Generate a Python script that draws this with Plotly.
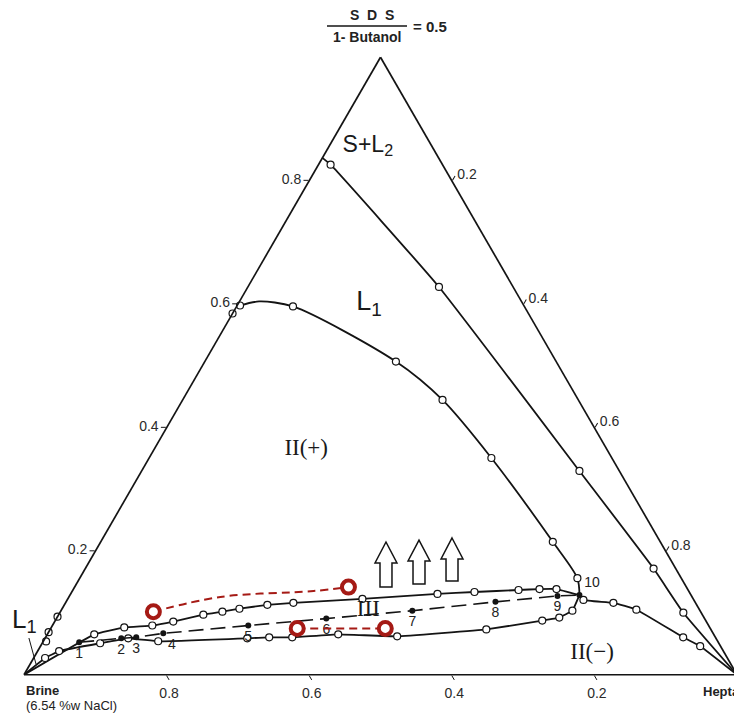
import plotly.graph_objects as go

# ---------------- data (mass fractions) ----------------
# S = surfactant+alcohol (apex), H = heptane (right corner), brine = 1 - S - H
# S+L2 / L1 boundary
sl2_S = [0.837, 0.826, 0.628, 0.330, 0.172, 0.1005, 0.0]
sl2_H = [0.000, 0.017, 0.268, 0.614, 0.797, 0.8745, 1.0]
# L1 / II(+) boundary
l1_S = [0.598, 0.6045, 0.5965, 0.5072, 0.445, 0.351, 0.2153, 0.1563, 0.129]
l1_H = [0.004, 0.0275, 0.079, 0.268, 0.3645, 0.480, 0.634, 0.698, 0.7145]
l1_marked = [0, 2, 3, 4, 5, 6, 7]
# upper boundary of three-phase lobe (brine corner -> point 10)
up_S = [0.0, 0.0654, 0.0766, 0.0797, 0.0861, 0.0973, 0.1021, 0.1069, 0.1132, 0.1164,
        0.1228, 0.1308, 0.134, 0.1372, 0.1388, 0.1388, 0.129]
up_H = [0.0, 0.0658, 0.1023, 0.1401, 0.1663, 0.2029, 0.2272, 0.2487, 0.2847, 0.3196,
        0.4132, 0.5145, 0.5648, 0.625, 0.6536, 0.6774, 0.7145]
# lower boundary of three-phase lobe
lo_S = [0.0, 0.0271, 0.0383, 0.051, 0.059, 0.0542, 0.059, 0.0606, 0.0606, 0.0654,
        0.0622, 0.0734, 0.0877, 0.0925, 0.1037, 0.129]
lo_H = [0.0, 0.016, 0.0301, 0.0813, 0.1167, 0.1611, 0.2836, 0.3136, 0.3459, 0.408,
        0.4923, 0.6117, 0.683, 0.7045, 0.7173, 0.7145]
# II(-) boundary (point 10 -> heptane corner)
neg_S = [0.129, 0.1212, 0.1164, 0.1053, 0.0606, 0.0463, 0.0]
neg_H = [0.7145, 0.724, 0.7684, 0.8062, 0.8942, 0.9252, 1.0]
# numbered samples along the dashed line
num_S = [0.0526, 0.059, 0.0606, 0.067, 0.0797, 0.0909, 0.1037, 0.118, 0.1276, 0.129]
num_H = [0.0511, 0.1069, 0.1271, 0.1618, 0.2747, 0.3785, 0.4928, 0.6022, 0.6844, 0.7145]
num_labels = ["1", "2", "3", "4", "5", "6", "7", "8", "9", "10"]
# open points on the brine/surfactant edge
edge_S = [0.585, 0.094, 0.069, 0.054]
edge_H = [0.0, 0.0, 0.0, 0.004]
# red annotation
red_S = [0.1021, 0.1419, 0.075, 0.075]
red_H = [0.1304, 0.3841, 0.3457, 0.4692]
red_curve_S = [0.1021, 0.126, 0.1356, 0.1419]
red_curve_H = [0.1304, 0.2125, 0.3382, 0.3841]
# region labels
reg_text = ["S+L<sub>2</sub>", "L<sub>1</sub>"]
reg_S = [0.8565, 0.601]
reg_H = [0.054, 0.1834]
reg_size = [23, 27]
roman_text = ["II(+)", "III", "II(−)"]
roman_S = [0.365, 0.1037, 0.0351]
roman_H = [0.2133, 0.4311, 0.7792]
tick_vals = [0.2, 0.4, 0.6, 0.8]


def brine(S, H):
    return [max(0.0, 1 - s - h) for s, h in zip(S, H)]


def pick(lst, idx):
    return [lst[i] for i in idx]


LINE = "#141414"
FONT = "Liberation Sans, Arial, sans-serif"
open_marker = dict(symbol="circle", size=7, color="white", line=dict(color=LINE, width=1.2))

fig = go.Figure()


def curve(S, H, marked, shape="spline", smooth=0.6):
    fig.add_trace(go.Scatterternary(a=S, b=brine(S, H), c=H, mode="lines",
                                    line=dict(color=LINE, width=1.8, shape=shape, smoothing=smooth),
                                    hoverinfo="skip", cliponaxis=False))
    mS, mH = pick(S, marked), pick(H, marked)
    fig.add_trace(go.Scatterternary(a=mS, b=brine(mS, mH), c=mH, mode="markers",
                                    marker=open_marker, hoverinfo="skip", cliponaxis=False))


curve(sl2_S, sl2_H, list(range(1, len(sl2_S) - 1)), "spline", 0.4)
curve(l1_S, l1_H, l1_marked, "spline", 0.8)
curve(up_S, up_H, list(range(1, len(up_S) - 1)), "spline", 0.25)
curve(lo_S, lo_H, list(range(1, len(lo_S) - 1)), "spline", 0.2)
curve(neg_S, neg_H, list(range(1, len(neg_S) - 1)), "spline", 0.4)

fig.add_trace(go.Scatterternary(a=edge_S, b=brine(edge_S, edge_H), c=edge_H, mode="markers",
                                marker=open_marker, hoverinfo="skip", cliponaxis=False))

# dashed line through numbered points
fig.add_trace(go.Scatterternary(a=num_S, b=brine(num_S, num_H), c=num_H, mode="lines",
                                line=dict(color=LINE, width=1.6, dash="15px,7px"),
                                hoverinfo="skip", cliponaxis=False))
tpos = ["bottom center"] * 3 + ["bottom right"] + ["bottom center"] * 5 + ["top right"]
fig.add_trace(go.Scatterternary(a=num_S, b=brine(num_S, num_H), c=num_H, mode="markers+text",
                                marker=dict(size=6, color=LINE), text=num_labels, textposition=tpos,
                                textfont=dict(size=14, color="#222", family=FONT),
                                hoverinfo="skip", cliponaxis=False))

# red annotation
RED = "#a51a15"
fig.add_trace(go.Scatterternary(a=red_curve_S, b=brine(red_curve_S, red_curve_H), c=red_curve_H,
                                mode="lines", line=dict(color=RED, width=2, dash="8px,5px", shape="spline"),
                                hoverinfo="skip", cliponaxis=False))
fig.add_trace(go.Scatterternary(a=red_S[2:], b=brine(red_S[2:], red_H[2:]), c=red_H[2:],
                                mode="lines", line=dict(color=RED, width=2, dash="8px,5px"),
                                hoverinfo="skip", cliponaxis=False))
fig.add_trace(go.Scatterternary(a=red_S, b=brine(red_S, red_H), c=red_H, mode="markers",
                                marker=dict(symbol="circle", size=13, color="white",
                                            line=dict(color=RED, width=4)),
                                hoverinfo="skip", cliponaxis=False))

# region labels
fig.add_trace(go.Scatterternary(a=reg_S, b=brine(reg_S, reg_H), c=reg_H, mode="text",
                                text=reg_text, textposition="middle center",
                                textfont=dict(size=reg_size, color="#1a1a1a", family=FONT),
                                hoverinfo="skip", cliponaxis=False))
fig.add_trace(go.Scatterternary(a=roman_S, b=brine(roman_S, roman_H), c=roman_H, mode="text",
                                text=roman_text, textposition="middle center",
                                textfont=dict(size=23, color="#1a1a1a",
                                              family="Liberation Serif, DejaVu Serif, serif"),
                                hoverinfo="skip", cliponaxis=False))

# ---------------- layout ----------------
OFF = 8                      # page offset of the figure (body margin)
W, H_ = 742, 717
ML, MT = 16, 49
PW, PH = 713, 618
MR, MB = W - ML - PW, H_ - MT - PH


def px(x):
    return (x - OFF - ML) / PW


def py(y):
    return (MT + PH + OFF - y) / PH


axis = dict(showgrid=False, showline=True, linecolor=LINE, linewidth=1.7, ticks="outside",
            ticklen=5, tickcolor=LINE, tickvals=tick_vals,
            tickfont=dict(size=14, color="#2a2a2a", family=FONT), title=dict(text=""))

shapes = []
# block arrows
for cx, top, base, bot in [(386, 542, 563, 587), (419, 540, 561, 584), (452, 538, 559, 581)]:
    hw, sw = 11, 6
    pts = [(cx, top), (cx + hw, base), (cx + sw, base), (cx + sw, bot), (cx - sw, bot),
           (cx - sw, base), (cx - hw, base)]
    path = "M " + " L ".join(f"{px(x):.4f},{py(y):.4f}" for x, y in pts) + " Z"
    shapes.append(dict(type="path", xref="paper", yref="paper", path=path,
                       line=dict(color=LINE, width=1.5), fillcolor="white"))
# fraction bar
shapes.append(dict(type="line", xref="paper", yref="paper", x0=px(327), x1=px(407),
                   y0=py(26), y1=py(26), line=dict(color=LINE, width=1.5)))


def note(text, x, y, size, xanchor="center", **kw):
    d = dict(text=text, x=px(x), y=py(y), xanchor=xanchor, yanchor="middle",
             showarrow=False, font=dict(size=size, family=FONT, color="#222"))
    d.update(kw)
    return d


annotations = [
    note("<b>S  D  S</b>", 372, 15, 14),
    note("<b>1- Butanol</b>", 367, 37, 14),
    note("<b>= 0.5</b>", 411, 26, 15, "left"),
    note("<b>Brine</b>", 24, 690, 13, "left"),
    note("(6.54 %w NaCl)", 24, 706, 13, "left"),
    note("<b>Heptane</b>", 701, 691, 13, "left"),
    dict(text="L<sub>1</sub>", x=px(36), y=py(664), ax=-12, ay=-44, showarrow=True, arrowhead=0,
         arrowwidth=1, arrowcolor=LINE, font=dict(size=26, family=FONT, color="#1a1a1a")),
]

fig.update_layout(
    width=W, height=H_, margin=dict(l=ML, r=MR, t=MT, b=MB),
    paper_bgcolor="white", showlegend=False,
    ternary=dict(sum=1, bgcolor="white", aaxis=axis, baxis=axis, caxis=axis),
    shapes=shapes, annotations=annotations,
)

fig.write_html("out.html")
